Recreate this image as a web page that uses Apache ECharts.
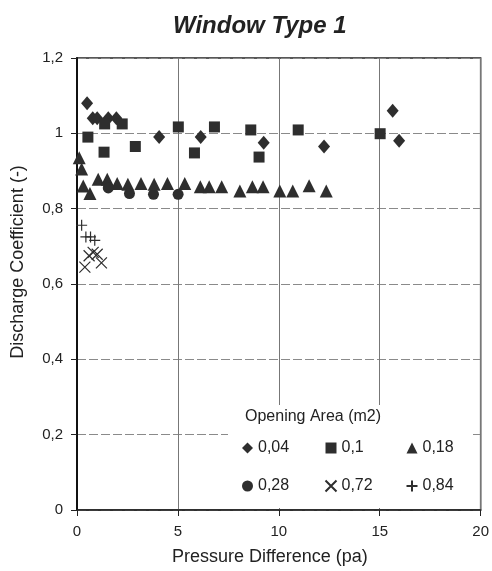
<!DOCTYPE html>
<html>
<head>
<meta charset="utf-8">
<script src="https://cdn.jsdelivr.net/npm/echarts@6/dist/echarts.min.js"></script>
<style>
  html, body { margin: 0; padding: 0; background: #fff; }
  #chart { width: 492px; height: 571px; }
</style>
</head>
<body>
<div id="chart"></div>
<script>
// opening areas (m2), one series each
var areaNames = ['0,04', '0,1', '0,18', '0,28', '0,72', '0,84']

// [pressure difference (pa), discharge coefficient]
var a004 = [[0.5, 1.08], [0.78, 1.04], [1.0, 1.04], [1.55, 1.04], [1.95, 1.04], [4.07, 0.99],
  [6.13, 0.99], [9.25, 0.975], [12.24, 0.965], [15.64, 1.06], [15.96, 0.98]]
var a01 = [[0.54, 0.99], [1.37, 1.025], [2.24, 1.025], [1.34, 0.95], [2.89, 0.965], [5.02, 1.017],
  [5.82, 0.948], [6.81, 1.017], [8.61, 1.009], [9.02, 0.937], [10.96, 1.009], [15.02, 0.999]]
var a018 = [[0.11, 0.935], [0.23, 0.905], [0.31, 0.86], [0.64, 0.84], [1.05, 0.878], [1.5, 0.878],
  [1.99, 0.867], [2.52, 0.865], [3.17, 0.867], [3.82, 0.865], [4.48, 0.867], [5.34, 0.867],
  [6.11, 0.858], [6.55, 0.858], [7.17, 0.858], [8.07, 0.847], [8.69, 0.858], [9.22, 0.858],
  [10.05, 0.847], [10.69, 0.847], [11.5, 0.861], [12.35, 0.847]]
var a028 = [[1.55, 0.855], [2.6, 0.84], [3.79, 0.838], [5.01, 0.838]]
var a072 = [[0.39, 0.645], [0.6, 0.675], [0.8, 0.684], [1.0, 0.679], [1.21, 0.656]]
var a084 = [[0.23, 0.756], [0.44, 0.725], [0.67, 0.725], [0.88, 0.716]]

var xTicks = { min: 0, max: 20, interval: 5 }
var yTicks = { min: 0, max: 1.2, interval: 0.2 }

var ink = '#2e2e2e'
var font = '"Liberation Sans", Arial, sans-serif'
var crossPath = 'path://M0,0L10,10M10,0L0,10'
var plusPath = 'path://M5,0L5,10M0,5L10,5'

function filled (name, data, symbol, size) {
  return {
    name: name,
    type: 'scatter',
    data: data,
    symbol: symbol,
    symbolSize: size,
    itemStyle: { color: ink, opacity: 1 }
  }
}
function stroked (name, data, symbol, size) {
  return {
    name: name,
    type: 'scatter',
    data: data,
    symbol: symbol,
    symbolSize: size,
    itemStyle: { color: 'none', borderColor: ink, borderWidth: 1.2, opacity: 1 }
  }
}

// legend laid out as three columns of two entries
function legendColumn (names, left) {
  return {
    data: names,
    left: left,
    top: 437,
    orient: 'vertical',
    itemWidth: 11,
    itemHeight: 11,
    itemGap: 16,
    padding: 0,
    z: 6,
    textStyle: { fontFamily: font, fontSize: 16, color: '#222', lineHeight: 22 }
  }
}

var option = {
  backgroundColor: '#fff',
  animation: false,
  title: {
    text: 'Window Type 1',
    left: 168,
    top: 9,
    textStyle: { fontFamily: font, fontSize: 24, fontWeight: 'bold', fontStyle: 'italic', color: '#222' }
  },
  grid: {
    left: 77,
    right: 7,
    top: 58,
    bottom: 55,
    show: true,
    borderColor: '#222',
    borderWidth: 1.5,
    backgroundColor: 'transparent'
  },
  xAxis: {
    type: 'value',
    min: xTicks.min,
    max: xTicks.max,
    interval: xTicks.interval,
    name: 'Pressure Difference (pa)',
    nameLocation: 'middle',
    nameGap: 38,
    nameTextStyle: { fontFamily: font, fontSize: 18, color: '#222', padding: [0, 18, 0, 0] },
    axisLine: { show: true, lineStyle: { color: '#222', width: 1.5 } },
    axisTick: { show: true, length: 6, lineStyle: { color: '#222' } },
    axisLabel: { fontFamily: font, fontSize: 15, color: '#222', margin: 14 },
    splitLine: { show: true, lineStyle: { color: '#777', width: 1 } }
  },
  yAxis: {
    type: 'value',
    min: yTicks.min,
    max: yTicks.max,
    interval: yTicks.interval,
    name: 'Discharge Coefficient (-)',
    nameLocation: 'middle',
    nameRotate: 90,
    nameGap: 50,
    nameTextStyle: { fontFamily: font, fontSize: 18, color: '#222', padding: [0, 0, 0, 44] },
    axisLine: { show: true, lineStyle: { color: '#111', width: 2 } },
    axisTick: { show: true, length: 6, lineStyle: { color: '#222' } },
    axisLabel: {
      fontFamily: font,
      fontSize: 15,
      color: '#222',
      margin: 14,
      formatter: function (v) { return String(Math.round(v * 10) / 10).replace('.', ',') }
    },
    splitLine: { show: true, lineStyle: { color: '#8a8a8a', width: 1, type: [9, 3] } }
  },
  graphic: [
    {
      type: 'rect',
      z: 3,
      shape: { x: 228, y: 405, width: 245, height: 103 },
      style: { fill: '#fff' }
    },
    {
      type: 'text',
      z: 5,
      left: 245,
      top: 409,
      style: { text: 'Opening Area (m2)', font: '16px ' + font, fill: '#222' }
    }
  ],
  legend: [
    legendColumn([areaNames[0], areaNames[3]], 242),
    legendColumn([areaNames[1], areaNames[4]], 323),
    legendColumn([areaNames[2], areaNames[5]], 404)
  ],
  series: [
    filled(areaNames[0], a004, 'diamond', [12, 14]),
    filled(areaNames[1], a01, 'rect', 11),
    filled(areaNames[2], a018, 'triangle', 13),
    filled(areaNames[3], a028, 'circle', 11),
    stroked(areaNames[4], a072, crossPath, 11),
    stroked(areaNames[5], a084, plusPath, 11)
  ]
}

var chart = echarts.init(document.getElementById('chart'))
chart.setOption(option)
</script>
</body>
</html>
